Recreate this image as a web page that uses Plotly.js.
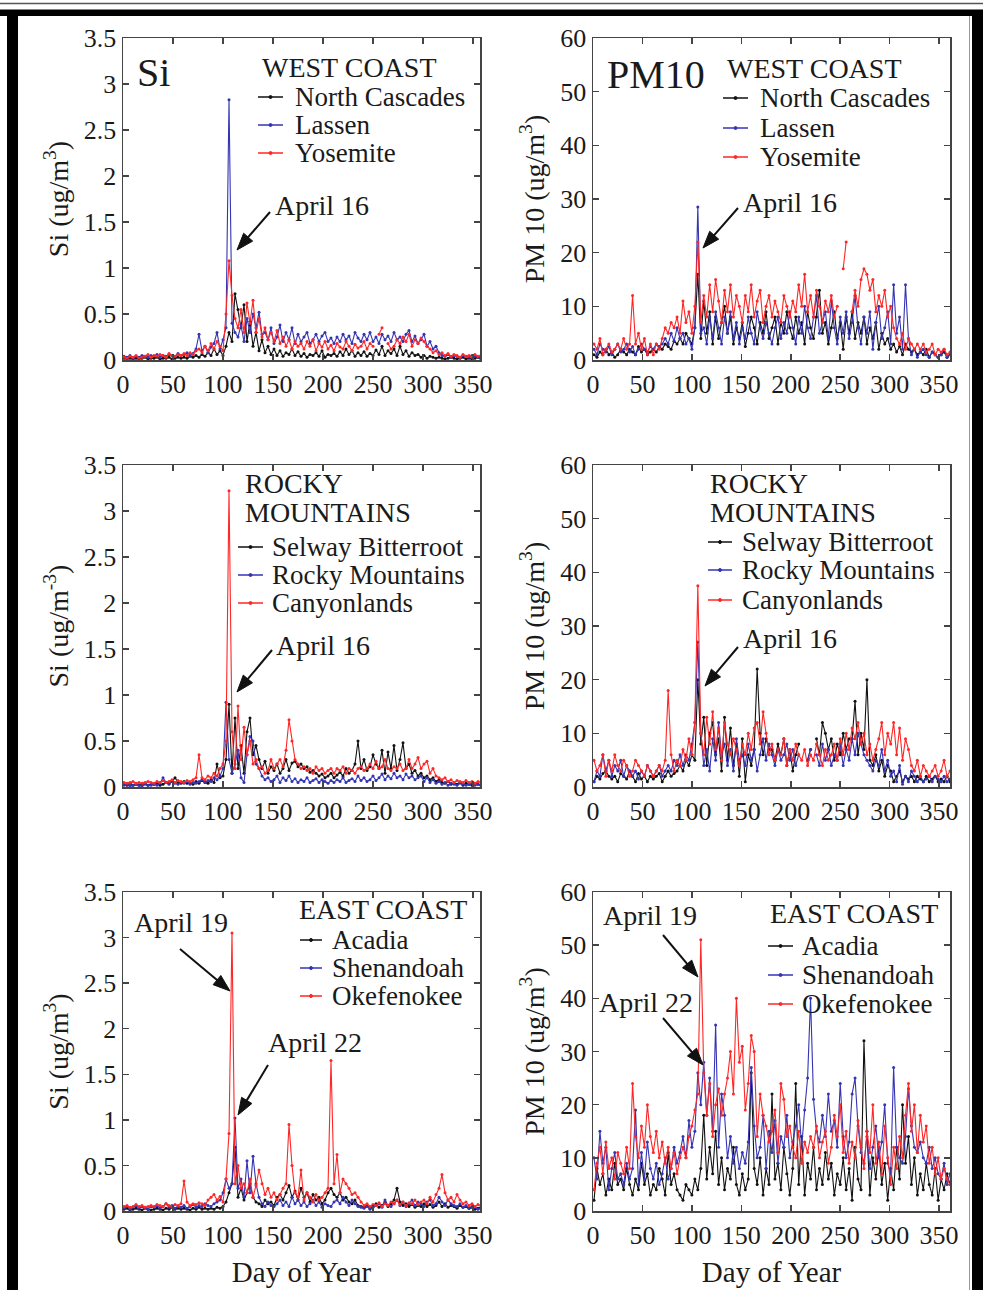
<!DOCTYPE html>
<html><head><meta charset="utf-8">
<script src="https://cdn.plot.ly/plotly-3.0.1.min.js"></script>
<style>html,body{margin:0;padding:0;background:#fff}#chart{width:983px;height:1290px}</style>
</head><body><div id="chart"></div>
<script>
// ---------- DATA ----------
const days = [1,4,7,10,13,16,19,22,25,28,31,34,37,40,43,46,49,52,55,58,61,64,67,70,73,76,79,82,85,88,91,94,97,100,103,106,109,112,115,118,121,124,127,130,133,136,139,142,145,148,151,154,157,160,163,166,169,172,175,178,181,184,187,190,193,196,199,202,205,208,211,214,217,220,223,226,229,232,235,238,241,244,247,250,253,256,259,262,265,268,271,274,277,280,283,286,289,292,295,298,301,304,307,310,313,316,319,322,325,328,331,334,337,340,343,346,349,352,355,358,361];

// West Coast Si
const siNorthCascades = [
0.02,0.01,0.02,0.01,0.02,0.01,0.02,0.03,0.01,0.02,
0.02,0.03,0.01,0.02,0.02,0.03,0.01,0.02,0.03,0.02,
0.03,0.02,0.04,0.03,0.05,0.03,0.06,0.04,0.08,0.05,
0.12,0.06,0.1,0.05,0.15,0.3,0.2,0.72,0.55,0.35,
0.6,0.2,0.42,0.15,0.3,0.1,0.22,0.08,0.15,0.06,
0.12,0.05,0.1,0.04,0.08,0.06,0.12,0.05,0.09,0.04,
0.07,0.03,0.06,0.05,0.08,0.04,0.1,0.03,0.06,0.05,
0.07,0.04,0.09,0.05,0.12,0.06,0.1,0.04,0.08,0.05,
0.09,0.04,0.07,0.05,0.11,0.06,0.15,0.05,0.1,0.07,
0.12,0.05,0.15,0.06,0.1,0.04,0.08,0.05,0.06,0.03,
0.05,0.02,0.04,0.03,0.02,0.03,0.02,0.01,0.02,0.03,
0.02,0.01,0.02,0.03,0.01,0.02,0.01,0.02,0.03,0.01,0.02];
const siLassen = [
0.04,0.03,0.05,0.02,0.04,0.03,0.05,0.04,0.03,0.05,
0.04,0.06,0.03,0.05,0.04,0.06,0.05,0.04,0.07,0.05,
0.06,0.08,0.05,0.07,0.12,0.28,0.1,0.15,0.08,0.14,
0.18,0.3,0.12,0.22,0.35,2.83,0.4,0.3,0.25,0.38,
0.2,0.45,0.3,0.5,0.35,0.52,0.28,0.3,0.22,0.35,
0.18,0.25,0.38,0.2,0.3,0.22,0.35,0.18,0.28,0.2,
0.25,0.3,0.18,0.22,0.28,0.2,0.26,0.3,0.2,0.24,
0.18,0.25,0.2,0.28,0.22,0.26,0.18,0.3,0.24,0.2,
0.28,0.22,0.3,0.2,0.25,0.18,0.28,0.22,0.26,0.2,
0.3,0.22,0.25,0.2,0.28,0.32,0.2,0.26,0.18,0.22,
0.28,0.15,0.2,0.12,0.15,0.08,0.05,0.04,0.06,0.03,
0.05,0.04,0.03,0.05,0.04,0.03,0.05,0.04,0.03,0.04,0.03];
const siYosemite = [
0.03,0.02,0.04,0.03,0.05,0.02,0.03,0.04,0.06,0.03,
0.05,0.04,0.06,0.05,0.03,0.07,0.05,0.04,0.06,0.05,
0.07,0.05,0.08,0.06,0.1,0.12,0.08,0.15,0.1,0.18,
0.12,0.2,0.15,0.1,0.5,1.08,0.7,0.45,0.35,0.55,
0.3,0.62,0.4,0.65,0.3,0.45,0.25,0.35,0.22,0.3,
0.2,0.32,0.18,0.25,0.15,0.22,0.12,0.2,0.15,0.18,
0.12,0.2,0.15,0.22,0.1,0.18,0.14,0.2,0.12,0.16,
0.1,0.18,0.14,0.12,0.2,0.15,0.1,0.17,0.13,0.15,
0.2,0.12,0.18,0.15,null,0.28,0.35,null,0.18,0.12,
0.15,0.22,0.18,0.25,0.2,0.28,0.15,0.22,0.18,0.24,
0.2,0.15,0.12,0.08,0.1,0.06,0.08,0.05,0.07,0.04,
0.06,0.05,0.03,0.06,0.04,0.05,0.03,0.06,0.04,0.05,0.03];

// West Coast PM10
const pmNorthCascades = [
1,0.5,1.5,1,2,1,1.5,0.5,1,2,
1.5,1,2,1.5,1,2.5,1.5,2,1,1.5,
2,1.5,2.5,2,3,2.5,2,3.5,3,4,
3,5,4,3,6,16,4,11,5,9,
3,8,4,7,10,5,8,3,6,4,
7,2.5,5,8,6,3,7,5,9,4,
6,8,3,7,5,9,6,4,8,5,
7,3,9,6,4,8,13,5,7,3,
6,9,4,7,2,8,5,9,4,7,
5,8,3,6,4,7,2,5,3,4,
2,3,1.5,2.5,1,3,2,1.5,2,1,
1.5,1,2,0.5,1.5,1,0.5,1,1.5,0.5,1];
const pmLassen = [
2,1,3,2,1.5,2.5,1,2,3,1.5,
2,3,1.5,2.5,1,2,3,2,1.5,2.5,
2,3,2.5,3,4,3,5,3.5,6,4,
5,3,4,2,6,28.5,5,6,3,8,
4,9,6,3,8,5,9,4,7,3,
6,4,8,5,3,9,6,4,7,5,
3,6,8,4,7,5,9,6,3,8,
5,10,6,4,8,12,5,7,9,4,
11,6,3,8,5,9,4,7,12,6,
3,8,5,9,2,7,10,4,6,9,
3,14,5,8,2,14,4,1,2,0.5,
1.5,2,1,0.5,1.5,1,0.5,1,2,0.5,1];
const pmYosemite = [
3,2,4,1,2,3,1.5,2,3,2,
4,2,3,12,3,5,2,4,1,3,
1,3,2,4,6,5,7,6,8,5,
11,7,9,5,10,22,7,12,8,14,
9,15,11,7,13,9,14,8,12,10,
7,12,9,14,8,11,13,7,10,12,
8,11,9,7,12,10,8,11,9,14,
10,16,9,12,8,13,10,7,11,9,
12,8,10,null,17,22,null,9,13,10,
15,17,16,13,15,9,12,10,13,8,
10,6,4,3,5,2,4,3,2,3,
2,3,1.5,2,3,1,2,1.5,2,1,1.5];

// Rocky Mountains Si
const siSelway = [
0.03,0.02,0.04,0.02,0.03,0.02,0.03,0.04,0.02,0.03,
0.03,0.04,0.02,0.03,0.05,0.04,0.06,0.1,0.05,0.04,
0.06,0.04,0.05,0.03,0.06,0.04,0.07,0.05,0.04,0.08,
0.05,0.25,0.1,0.12,0.3,0.9,0.15,0.75,0.2,0.45,
0.15,0.6,0.75,0.35,0.45,0.3,0.2,0.28,0.15,0.22,
0.18,0.25,0.15,0.2,0.3,0.18,0.26,0.28,0.22,0.25,
0.2,0.22,0.16,0.18,0.15,0.12,0.14,0.1,0.12,0.15,
0.1,0.13,0.16,0.12,0.2,0.15,0.18,0.25,0.5,0.2,
0.3,0.18,0.22,0.35,0.25,0.2,0.4,0.15,0.38,0.2,
0.45,0.18,0.3,0.48,0.2,0.25,0.15,0.18,0.12,0.15,
0.1,0.12,0.08,0.1,0.06,0.08,0.05,0.04,0.06,0.03,
0.04,0.03,0.05,0.02,0.04,0.03,0.02,0.04,0.03,0.02,0.03];
const siRockyMtn = [
0.02,0.03,0.01,0.02,0.03,0.02,0.01,0.03,0.02,0.02,
0.03,0.02,0.04,0.1,0.05,0.03,0.06,0.04,0.03,0.05,
0.04,0.06,0.03,0.05,0.04,0.06,0.08,0.05,0.07,0.06,
0.1,0.08,0.12,0.2,0.92,0.3,0.15,0.25,0.4,0.1,
0.05,0.35,0.55,0.5,0.25,0.2,0.12,0.08,0.1,0.06,
0.08,0.12,0.05,0.1,0.07,0.12,0.06,0.09,0.05,0.08,
0.06,0.1,0.05,0.07,0.09,0.05,0.08,0.06,0.04,0.07,
0.05,0.08,0.06,0.1,0.05,0.07,0.09,0.06,0.12,0.07,
0.1,0.06,0.08,0.12,0.07,0.1,0.14,0.08,0.12,0.09,
0.15,0.1,0.12,0.08,0.14,0.1,0.12,0.08,0.1,0.12,
0.06,0.1,0.05,0.08,0.04,0.06,0.03,0.05,0.02,0.04,
0.03,0.02,0.04,0.03,0.02,0.03,0.04,0.02,0.03,0.02,0.03];
const siCanyonlands = [
0.05,0.04,0.05,0.06,0.04,0.05,0.04,0.05,0.06,0.05,
0.04,0.06,0.05,0.07,0.05,0.06,0.08,0.05,0.07,0.06,
0.05,0.07,0.06,0.08,0.1,0.35,0.1,0.08,0.12,0.1,
0.15,0.12,0.2,0.25,0.5,3.22,0.6,0.2,0.88,0.3,
0.65,0.35,0.5,0.25,0.3,0.2,0.22,0.15,0.18,0.3,
0.2,0.25,0.3,0.22,0.4,0.73,0.5,0.3,0.25,0.2,
0.22,0.18,0.2,0.15,0.22,0.18,0.2,0.15,0.18,0.2,
0.15,0.2,0.18,0.22,0.15,0.2,0.18,0.15,0.2,0.22,
0.18,0.2,0.25,0.2,0.28,0.2,0.22,0.3,0.2,0.18,
0.22,0.2,0.25,0.18,0.2,0.3,0.2,0.25,0.32,0.2,
0.25,0.28,0.15,0.2,0.12,0.1,0.08,0.1,0.06,0.08,
0.05,0.07,0.06,0.05,0.07,0.05,0.06,0.04,0.06,0.05,0.04];

// Rocky Mountains PM10
const pmSelway = [
1,2,1.5,2.5,3,2,1.5,2,1,2.5,
2,1.5,3,2,1,2.5,1.5,2,1,2,
1.5,2,2.5,1,2,3,2,2.5,3,4,
3,5,4,6,5,20,8,13,4,10,
12,6,9,3,13,5,11,4,8,2,
9,1,6,4,7,22,10,6,9,7,
7,5,8,6,9,4,7,3,6,8,
null,null,5,7,null,9,6,12,10,7,
9,5,8,6,10,7,9,9,16,6,
10,7,20,5,4,6,3,5,2,4,
3,1,2,3,1,2,1.5,2,1,2,
1.5,1,2,1,1.5,2,1,1.5,1,2,1];
const pmRockyMtn = [
1,3,2,6,3,5,2,4,3,5,
2,4,3,2,3,1.5,3,2,4,3,
2,3,4,2,3,4,3,5,4,6,
4,6,5,8,12,27,10,4,7,3,
9,5,12,6,8,4,7,3,9,5,
6,4,8,5,7,3,6,9,5,8,
6,4,7,5,6,8,5,7,4,6,
null,null,5,7,null,6,4,8,5,7,
4,6,5,8,4,7,5,9,6,10,
8,6,5,4,3,5,4,7,3,5,
2,3,1,4,0.5,2,1,3,2,1,
2,1,1.5,2,1,2,1.5,1,2,1,1.5];
const pmCanyonlands = [
5,3,4,6,2,5,3,6,4,3,
5,4,2,3,5,4,3,2,4,3,
2,3,4,3,5,18,6,3,5,4,
7,5,9,6,12,37.5,10,6,13,8,
14,7,11,5,12,8,6,9,7,4,
8,6,10,7,11,12,8,14,10,6,
8,5,7,6,9,4,7,5,8,6,
5,7,4,6,5,8,6,4,7,5,
6,8,5,9,6,10,7,11,9,12,
8,10,6,8,5,7,9,12,6,10,
8,12,6,11,5,9,7,4,3,5,
2,4,3,2,3,4,2,3,5,2,3];

// East Coast Si
const siAcadia = [
0.02,0.03,0.01,0.02,0.03,0.02,0.01,0.03,0.02,0.01,
0.02,0.03,0.02,0.01,0.03,0.02,0.04,0.02,0.03,0.02,
0.03,0.02,0.01,0.03,0.02,0.04,0.02,0.03,0.02,0.03,
0.02,0.04,0.03,0.05,0.1,0.2,0.3,0.7,0.15,0.25,
0.12,0.2,0.3,0.15,0.1,0.08,0.05,0.12,0.08,0.1,
0.06,0.15,0.18,0.12,0.2,0.28,0.15,0.22,0.12,0.25,
0.15,0.2,0.1,0.18,0.12,0.15,0.08,0.12,0.2,0.25,
0.18,0.15,0.2,0.12,0.15,0.1,0.08,0.12,0.06,0.05,
0.04,0.06,0.03,0.05,0.08,0.04,0.06,0.1,0.05,0.08,
0.12,0.25,0.1,0.06,0.08,0.05,0.07,0.04,0.06,0.05,
0.08,0.05,0.07,0.04,0.06,0.1,0.05,0.08,0.04,0.06,
0.05,0.03,0.06,0.04,0.05,0.03,0.04,0.02,0.03,0.04,0.02];
const siShenandoah = [
0.03,0.05,0.02,0.04,0.06,0.03,0.05,0.04,0.02,0.05,
0.04,0.06,0.03,0.05,0.08,0.04,0.06,0.03,0.05,0.04,
0.06,0.03,0.05,0.07,0.04,0.06,0.05,0.08,0.06,0.05,
0.08,0.1,0.12,0.2,0.35,0.25,0.3,1.02,0.25,0.35,
0.15,0.55,0.2,0.6,0.3,0.15,0.08,0.05,0.1,0.06,
0.05,0.08,0.12,0.06,0.1,0.05,0.15,0.08,0.12,0.06,
0.1,0.05,0.08,0.12,0.06,0.1,0.04,0.08,0.06,0.05,
0.1,0.12,0.08,0.15,0.1,0.06,0.12,0.08,0.05,0.04,
0.03,0.05,0.02,0.04,0.06,0.08,0.04,0.12,0.06,0.05,
0.08,0.12,0.06,0.1,0.05,0.08,0.12,0.06,0.1,0.08,
0.05,0.1,0.12,0.06,0.08,0.15,0.1,0.06,0.12,0.08,
0.06,0.05,0.08,0.04,0.06,0.03,0.05,0.04,0.02,0.03,0.02];
const siOkefenokee = [
0.05,0.06,0.04,0.05,0.07,0.05,0.06,0.04,0.05,0.06,
0.05,0.07,0.06,0.05,0.08,0.06,0.05,0.07,0.06,0.08,
0.33,0.1,0.06,0.08,0.07,0.09,0.08,0.06,0.12,0.15,
0.18,0.12,0.16,0.1,0.35,0.85,3.05,0.3,0.5,0.25,
0.3,0.2,0.35,0.15,0.28,0.45,0.3,0.18,0.25,0.15,
0.2,0.12,0.18,0.25,0.3,0.95,0.5,0.2,0.15,0.45,
0.12,0.2,0.15,0.1,0.18,0.12,0.15,0.2,0.25,1.65,
0.3,0.62,0.2,0.35,0.3,0.25,0.18,0.2,0.15,0.1,
0.06,0.08,0.05,0.07,0.06,0.09,0.05,0.08,0.06,0.1,
0.08,0.12,0.07,0.1,0.06,0.09,0.08,0.12,0.07,0.1,
0.12,0.08,0.15,0.1,0.18,0.25,0.4,0.2,0.12,0.15,
0.1,0.18,0.12,0.08,0.1,0.06,0.08,0.05,0.07,0.06,0.05];

// East Coast PM10
const pmAcadia = [
2,8,5,7,3,6,4,9,5,6,
4,8,5,3,6,4,9,5,7,3,
5,4,8,6,3,11,5,7,4,3,
2,5,4,3,6,4,8,18,6,12,
7,15,5,10,4,8,6,12,5,3,
7,4,6,26,8,5,10,3,8,5,
22,6,9,4,12,7,3,8,24,5,
14,3,9,6,12,4,8,5,11,6,
9,3,7,5,10,4,8,2,12,6,
4,32,15,3,10,6,12,5,9,2,
8,4,12,6,20,9,14,5,10,3,
7,4,9,5,3,8,2,6,4,7,5];
const pmShenandoah = [
10,6,15,9,12,4,8,11,6,7,
5,9,6,8,19,5,11,6,13,8,
6,9,5,7,10,6,8,12,9,11,
14,10,17,12,15,26,20,28,18,25,
15,35,12,22,18,10,14,9,12,8,
11,9,13,27,16,10,12,18,8,15,
11,17,9,14,12,18,10,13,16,20,
12,19,25,40,21,15,13,18,14,22,
15,17,12,24,14,10,13,22,25,16,
11,9,14,8,12,16,10,13,20,9,
7,27,12,10,9,14,23,16,12,11,
13,10,9,12,8,10,7,6,9,5,7];
const pmOkefenokee = [
4,9,12,7,13,8,10,6,11,9,
7,12,8,24,14,10,16,12,20,14,
11,15,10,13,9,12,8,11,7,10,
12,10,14,16,19,22,51,26,18,24,
14,20,23,18,22,25,30,22,40,28,
31,19,24,33,30,14,22,18,16,13,
15,19,11,24,21,14,16,12,10,15,
9,13,11,14,12,16,10,13,15,9,
12,18,14,20,11,15,9,13,10,17,
12,8,15,11,20,9,13,7,16,10,
5,12,8,14,10,18,24,15,20,11,
18,13,16,9,12,7,10,6,8,6,5];

const xTicks = [0,50,100,150,200,250,300,350];
const siTicks = [0,0.5,1,1.5,2,2.5,3,3.5];
const pmTicks = [0,10,20,30,40,50,60];

// ---------- STYLE / LAYOUT ----------
const W = 983, H = 1290;
const FONT = '"Liberation Serif", "Times New Roman", serif';
const TXT = '#1a1a1a';
const C_BLACK = '#111111', C_BLUE = '#3434b4', C_RED = '#ff2626';
const px = v => v / W;
const py = v => 1 - v / H;

function series(y, name, color, ax) {
  return {x: days, y: y, name: name, type: 'scatter', mode: 'lines+markers',
    line: {color: color, width: 1.1}, marker: {color: color, size: 3},
    xaxis: 'x' + ax, yaxis: 'y' + ax, showlegend: false, connectgaps: false};
}

const traces = [
  series(siNorthCascades, 'North Cascades', C_BLACK, ''),
  series(siLassen, 'Lassen', C_BLUE, ''),
  series(siYosemite, 'Yosemite', C_RED, ''),
  series(pmNorthCascades, 'North Cascades', C_BLACK, '2'),
  series(pmLassen, 'Lassen', C_BLUE, '2'),
  series(pmYosemite, 'Yosemite', C_RED, '2'),
  series(siSelway, 'Selway Bitterroot', C_BLACK, '3'),
  series(siRockyMtn, 'Rocky Mountains', C_BLUE, '3'),
  series(siCanyonlands, 'Canyonlands', C_RED, '3'),
  series(pmSelway, 'Selway Bitterroot', C_BLACK, '4'),
  series(pmRockyMtn, 'Rocky Mountains', C_BLUE, '4'),
  series(pmCanyonlands, 'Canyonlands', C_RED, '4'),
  series(siAcadia, 'Acadia', C_BLACK, '5'),
  series(siShenandoah, 'Shenandoah', C_BLUE, '5'),
  series(siOkefenokee, 'Okefenokee', C_RED, '5'),
  series(pmAcadia, 'Acadia', C_BLACK, '6'),
  series(pmShenandoah, 'Shenandoah', C_BLUE, '6'),
  series(pmOkefenokee, 'Okefenokee', C_RED, '6')
];

const axBase = {showline: true, linecolor: '#444', linewidth: 1.5, mirror: 'allticks',
  ticks: 'inside', ticklen: 6, tickwidth: 1.5, tickcolor: '#444', showgrid: false,
  zeroline: false, tickfont: {family: FONT, size: 26, color: TXT}, fixedrange: true};

const colL = [px(123), px(480)], colR = [px(593), px(950)];
const rows = [[py(360), py(38)], [py(787), py(465)], [py(1211), py(892)]];

function xa(dom, anchor, rmax, withTitle) {
  const a = Object.assign({}, axBase, {domain: dom, anchor: anchor, range: [0, rmax], tickvals: xTicks});
  if (withTitle) a.title = {text: 'Day of Year', font: {family: FONT, size: 29, color: TXT}, standoff: 13};
  return a;
}
function ya(dom, anchor, isSi, title) {
  return Object.assign({}, axBase, {domain: dom, anchor: anchor,
    range: isSi ? [0, 3.5] : [0, 60], tickvals: isSi ? siTicks : pmTicks,
    title: {text: title, font: {family: FONT, size: 28, color: TXT}, standoff: 7}});
}
const siT = 'Si (ug/m<sup>3</sup>)', siT2 = 'Si (ug/m<sup>-3</sup>)', pmT = 'PM 10 (ug/m<sup>3</sup>)';

const layout = {
  width: W, height: H, margin: {l: 0, r: 0, t: 0, b: 0},
  paper_bgcolor: '#fff', plot_bgcolor: '#fff', showlegend: false,
  xaxis: xa(colL, 'y', 357, false),  yaxis: ya(rows[0], 'x', true, siT),
  xaxis2: xa(colR, 'y2', 361, false), yaxis2: ya(rows[0], 'x2', false, pmT),
  xaxis3: xa(colL, 'y3', 357, false), yaxis3: ya(rows[1], 'x3', true, siT2),
  xaxis4: xa(colR, 'y4', 361, false), yaxis4: ya(rows[1], 'x4', false, pmT),
  xaxis5: xa(colL, 'y5', 357, true),  yaxis5: ya(rows[2], 'x5', true, siT),
  xaxis6: xa(colR, 'y6', 361, true),  yaxis6: ya(rows[2], 'x6', false, pmT),
  shapes: [], annotations: []
};

// frame
const S = layout.shapes, A = layout.annotations;
S.push({type: 'line', xref: 'paper', yref: 'paper', x0: 0, x1: 1, y0: py(3.5), y1: py(3.5), line: {color: '#555', width: 1.5}});
S.push({type: 'rect', xref: 'paper', yref: 'paper', x0: 0, x1: 1, y0: py(16), y1: py(9.5), fillcolor: '#000', line: {width: 0}});
S.push({type: 'rect', xref: 'paper', yref: 'paper', x0: px(7), x1: px(18), y0: 0, y1: py(16), fillcolor: '#000', line: {width: 0}});
S.push({type: 'rect', xref: 'paper', yref: 'paper', x0: px(972), x1: 1, y0: 0, y1: py(15), fillcolor: '#000', line: {width: 0}});
S.push({type: 'line', xref: 'paper', yref: 'paper', x0: px(969.5), x1: px(969.5), y0: 0, y1: py(16), line: {color: '#999', width: 1}});

function text(t, x, y, size, anchor) {
  A.push({text: t, xref: 'paper', yref: 'paper', x: px(x), y: py(y), xanchor: anchor || 'left', yanchor: 'middle',
    showarrow: false, font: {family: FONT, size: size, color: TXT}});
}
function legendBlock(lx0, lx1, tx, ys, names, colors) {
  names.forEach((n, i) => {
    S.push({type: 'line', xref: 'paper', yref: 'paper', x0: px(lx0), x1: px(lx1), y0: py(ys[i]), y1: py(ys[i]), line: {color: colors[i], width: 1.5}});
    const cx = (lx0 + lx1) / 2;
    S.push({type: 'circle', xref: 'paper', yref: 'paper', x0: px(cx - 1.5), x1: px(cx + 1.5), y0: py(ys[i] + 1.5), y1: py(ys[i] - 1.5), fillcolor: colors[i], line: {color: colors[i], width: 1}});
    text(n, tx, ys[i], 27);
  });
}
// arrow drawn as a line plus a filled triangular head (pixel geometry -> paper)
function arrow(tx, ty, hx, hy) {
  const dx = hx - tx, dy = hy - ty, L = Math.hypot(dx, dy);
  const ux = dx / L, uy = dy / L, HL = 17, HW = 6;
  const bx = hx - ux * HL, by = hy - uy * HL;
  const nx = -uy, ny = ux;
  S.push({type: 'line', xref: 'paper', yref: 'paper', x0: px(tx), y0: py(ty), x1: px(bx + ux * 2), y1: py(by + uy * 2), line: {color: '#111', width: 2}});
  const p = (x, y) => px(x).toFixed(5) + ',' + py(y).toFixed(5);
  S.push({type: 'path', xref: 'paper', yref: 'paper',
    path: 'M' + p(hx, hy) + ' L' + p(bx + nx * HW, by + ny * HW) + ' L' + p(bx - nx * HW, by - ny * HW) + ' Z',
    fillcolor: '#111', line: {color: '#111', width: 1}});
}
const KBR = [C_BLACK, C_BLUE, C_RED];

// panel 1
text('Si', 135, 72, 40);
text('WEST COAST', 260, 67, 28);
legendBlock(258, 283, 293, [97, 125, 153], ['North Cascades', 'Lassen', 'Yosemite'], KBR);
text('April 16', 322, 205, 28, 'center'); arrow(270, 212, 237, 250);
// panel 2
text('PM10', 605, 75, 40);
text('WEST COAST', 725, 68, 28);
legendBlock(723, 748, 758, [98, 128, 157], ['North Cascades', 'Lassen', 'Yosemite'], KBR);
text('April 16', 790, 202, 28, 'center'); arrow(738, 208, 703, 248);
// panel 3
text('ROCKY', 243, 483, 28); text('MOUNTAINS', 243, 512, 28);
legendBlock(238, 263, 270, [547, 575, 603], ['Selway Bitterroot', 'Rocky Mountains', 'Canyonlands'], KBR);
text('April 16', 323, 645, 28, 'center'); arrow(272, 650, 237, 692);
// panel 4
text('ROCKY', 708, 483, 28); text('MOUNTAINS', 708, 512, 28);
legendBlock(708, 732, 740, [542, 570, 600], ['Selway Bitterroot', 'Rocky Mountains', 'Canyonlands'], KBR);
text('April 16', 790, 638, 28, 'center'); arrow(738, 647, 705, 686);
// panel 5
text('EAST COAST', 297, 909, 28);
legendBlock(300, 322, 330, [940, 968, 996], ['Acadia', 'Shenandoah', 'Okefenokee'], KBR);
text('April 19', 181, 922, 28, 'center'); arrow(180, 949, 230, 991);
text('April 22', 315, 1042, 28, 'center'); arrow(268, 1065, 238, 1115);
// panel 6
text('EAST COAST', 768, 913, 28);
legendBlock(768, 793, 800, [946, 975, 1004], ['Acadia', 'Shenandoah', 'Okefenokee'], KBR);
text('April 19', 650, 915, 28, 'center'); arrow(663, 935, 698, 977);
text('April 22', 646, 1002, 28, 'center'); arrow(663, 1018, 703, 1065);

Plotly.newPlot('chart', traces, layout, {staticPlot: true, displayModeBar: false});
</script>
</body></html>
